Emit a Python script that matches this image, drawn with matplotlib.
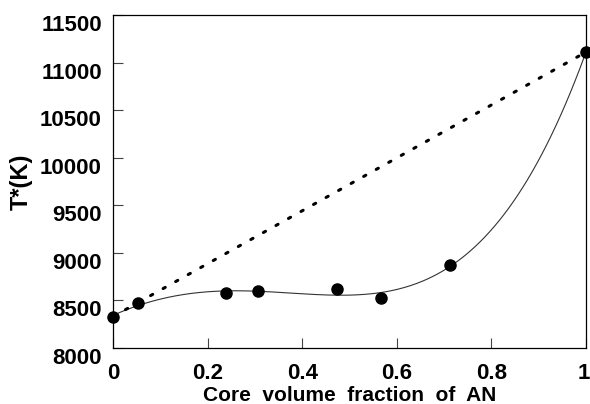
import numpy as np
import matplotlib.pyplot as plt
from matplotlib.transforms import ScaledTranslation

plt.rcParams['font.family'] = ['Liberation Sans', 'DejaVu Sans']

# core volume fraction of AN vs T*
frac = [0.0, 0.053, 0.239, 0.307, 0.474, 0.567, 0.712, 1.0]
temp = [8330, 8470, 8575, 8595, 8615, 8525, 8870, 11110]

fig = plt.figure(figsize=(5.9, 4.04), dpi=100)
ax = fig.add_axes([0.1915, 0.1386, 0.8017, 0.8243])

# smooth fitted curve
coef = np.polyfit(frac, temp, 5)
xs = np.linspace(0, 1, 300)
ax.plot(xs, np.polyval(coef, xs), color='#333333', lw=0.8)

# straight line between end members
ax.plot([frac[0], frac[-1]], [temp[0], temp[-1]], color='black', lw=2.2,
        linestyle=(0, (0.8, 3.9)), dash_capstyle='round')

ax.plot(frac, temp, 'o', color='black', ms=8, clip_on=False, zorder=5)

ax.set_xlim(0, 1)
ax.set_ylim(8000, 11500)
ax.set_xticks([0, 0.2, 0.4, 0.6, 0.8, 1])
ax.set_xticklabels(['0', '0.2', '0.4', '0.6', '0.8', '1'])
ax.set_yticks(np.arange(8000, 11501, 500))
ax.tick_params(direction='in', length=7, width=0.8, labelsize=16, color='#444444')
ax.tick_params(axis='x', pad=11)
ax.tick_params(axis='y', pad=8)
for lab in ax.get_xticklabels() + ax.get_yticklabels():
    lab.set_fontweight('bold')
# y labels sit a bit below their ticks in the original
for lab in ax.get_yticklabels():
    lab.set_transform(lab.get_transform() + ScaledTranslation(0, -8 / 100, fig.dpi_scale_trans))
# keep the last x label inside the figure
last = ax.get_xticklabels()[-1]
last.set_horizontalalignment('right')
last.set_transform(last.get_transform() + ScaledTranslation(4 / 100, 0, fig.dpi_scale_trans))
for s in ax.spines.values():
    s.set_linewidth(0.9)

ax.set_xlabel('Core  volume  fraction  of  AN', fontsize=15, fontweight='bold', labelpad=1)
ax.set_ylabel('T*(K)', fontsize=17, fontweight='bold', labelpad=5)

fig.savefig('out.png', dpi=100)
